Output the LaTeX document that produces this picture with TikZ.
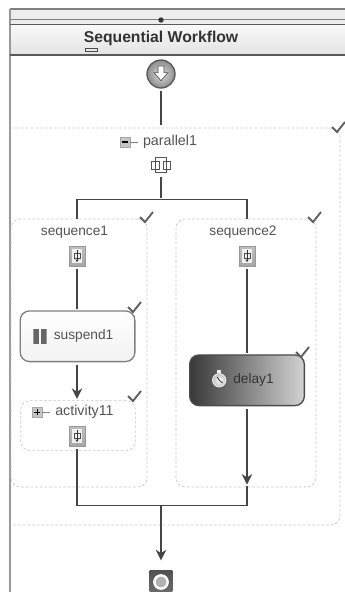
\documentclass[tikz,border=0pt]{standalone}
\usepackage{fontspec}
\setmainfont{Liberation Sans}
\usetikzlibrary{positioning,shapes,arrows.meta,calc}
\definecolor{wiregray}{rgb}{0.27,0.27,0.27}
\definecolor{textgray}{rgb}{0.33,0.33,0.33}
\definecolor{dashgray}{rgb}{0.78,0.78,0.78}
\definecolor{barlight}{rgb}{0.93,0.93,0.93}
\tikzstyle{wire}=[%
      draw=wiregray, line width=0.95pt, shorten <=2pt, shorten >=1pt
]
\tikzstyle{wirearrow}=[%
      wire, -{Stealth[length=8pt,width=8pt]}
]
\tikzstyle{dashbox}=[%
      rectangle, rounded corners=7pt, draw=dashgray, line width=0.5pt, dash pattern=on 2pt off 1.5pt,
      inner sep=0pt
]
\tikzstyle{lbl}=[%
      inner sep=0pt, text=textgray, font=\fontsize{10.3}{12}\selectfont
]
\tikzstyle{lblbig}=[%
      lbl, font=\fontsize{10.7}{12}\selectfont
]
\tikzstyle{actbox}=[%
      rectangle, rounded corners=7pt, draw=gray, line width=1pt, inner sep=0pt,
      minimum width=86pt, minimum height=38pt
]
\tikzstyle{seqicon}=[%
      rectangle, draw=gray!80, line width=0.4pt, inner sep=0pt, minimum width=12pt, minimum height=15pt,
      top color=gray!50, bottom color=gray!70,
      path picture={
        \fill[gray!12] ([shift={(-4pt,-5pt)}]path picture bounding box.center) rectangle ++(8pt,10pt);
        \draw[black!70, line width=0.4pt] ([shift={(-2.2pt,-1.8pt)}]path picture bounding box.center) rectangle ++(4.4pt,3.6pt);
        \draw[black!80, line width=0.6pt, -{Stealth[length=2pt,width=2.5pt]}] ([yshift=4.5pt]path picture bounding box.center) -- ++(0,-9pt);
      }
]
\tikzstyle{toggle}=[%
      rectangle, draw=gray!70, line width=0.3pt, fill=gray!45, inner sep=0pt, minimum size=7.5pt
]
\tikzset{
  check/.pic={
    \draw[draw=gray!75!black, line width=1.4pt] (-6,-1) -- (-1,4) -- (7,-6);
  }
}

\begin{document}
\begin{tikzpicture}[x=0.75pt,y=-0.75pt]
    \useasboundingbox (0,0) rectangle (345,592);
    \fill[white] (0,0) rectangle (345,592);

    % window frame
    \fill[barlight] (10,9) rectangle (345,24);
    \shade[top color=gray!5, bottom color=gray!22] (10,25) rectangle (345,55);
    \draw[gray, line width=0.8pt] (345,9) -- (10,9);
    \draw[gray!80, line width=1.5pt] (10,9) -- (10,592);
    \draw[gray, line width=0.6pt] (10,19) -- (345,19);
    \draw[gray!70!black, line width=1pt] (10,24.5) -- (345,24.5);
    \draw[gray!70!black, line width=1pt] (10,55) -- (345,55);
    \node[circle, fill=black!80, inner sep=0pt, minimum size=4pt] (grip) at (161,20) {};
    \node[inner sep=0pt, text=black!80, font=\fontsize{11.8}{14}\selectfont\bfseries] (title) at (161,38.5) {Sequential Workflow};
    \node[rectangle, draw=black!70, line width=0.4pt, inner sep=0pt, minimum width=9pt, minimum height=2.5pt] (titlemark) at (91,50) {};

    % start
    \node[circle, draw=gray!70!black, line width=1pt, inner color=gray!25, outer color=gray!90, inner sep=0pt, minimum size=21pt,
          path picture={
            \fill[white, draw=black!70, line width=0.5pt] ([shift={(-2.2pt,6pt)}]path picture bounding box.center) -- ++(4.4pt,0) -- ++(0,-5pt) -- ++(3pt,0)
              -- ++(-5.2pt,-6pt) -- ++(-5.2pt,6pt) -- ++(3pt,0) -- cycle;
          }] (start) at (161,74) {};
    \coordinate (partop) at (161,126);

    % parallel1
    \draw[dashgray, line width=0.5pt, dash pattern=on 2pt off 1.5pt, rounded corners=7pt] (12,128) -- (340,128) -- (340,525) -- (12,525);
    \pic at (338,128) {check};
    \node[lblbig] (parallel1) at (170,142) {parallel1};
    \node[toggle] (parmin) [left=9.5pt of parallel1] {};
    \draw[black, line width=0.8pt] ([xshift=-2pt]parmin.center) -- ([xshift=2pt]parmin.center);
    \draw[gray, line width=0.4pt, shorten >=3.5pt] (parmin) -- (parallel1.west);
    \node[rectangle, inner sep=0pt, minimum width=17pt, minimum height=14pt,
          path picture={
            \draw[textgray, line width=0.5pt] ([shift={(-4pt,-5.5pt)}]path picture bounding box.center) rectangle ++(8pt,11pt);
            \fill[white] ([shift={(-7pt,-3pt)}]path picture bounding box.center) rectangle ++(14pt,6pt);
            \draw[textgray, line width=0.5pt] ([shift={(-7pt,-3pt)}]path picture bounding box.center) rectangle ++(5.5pt,5.5pt);
            \draw[textgray, line width=0.5pt] ([shift={(1.5pt,-3pt)}]path picture bounding box.center) rectangle ++(5.5pt,5.5pt);
            \draw[textgray, line width=0.5pt] ([shift={(-4.2pt,-5pt)}]path picture bounding box.center) -- ++(0,10pt);
            \draw[textgray, line width=0.5pt] ([shift={(4.2pt,-5pt)}]path picture bounding box.center) -- ++(0,10pt);
          }] (paricon) at (161,165) {};
    \coordinate (fork) at (161,199.5);
    \coordinate (forkl) at (77,199.5);
    \coordinate (forkr) at (247,199.5);

    % sequence1
    \node[dashbox, minimum width=102pt, minimum height=201pt] (sequence1box) at (79,353) {};
    \pic at (146,218) {check};
    \node[lbl] (sequence1) at (74.5,232) {sequence1};
    \node[seqicon] (seqicon1) at (77,256) {};
    \node[actbox, top color=white, bottom color=gray!10, xshift=0.4pt] (suspend1) [below=33pt of seqicon1] {};
    \pic at (134,308) {check};
    \node[lbl] (suspendlbl) [right=25.5pt of suspend1.west] {suspend1};
    \node[rectangle, inner sep=0pt, minimum width=10pt, minimum height=11pt,
          path picture={
            \fill[gray!80!black] (path picture bounding box.south west) rectangle ++(4.2pt,11pt);
            \fill[gray!80!black] ([xshift=5.8pt]path picture bounding box.south west) rectangle ++(4.2pt,11pt);
          }] (pausebars) [left=5pt of suspendlbl] {};
    \node[dashbox, minimum width=86pt, minimum height=37.5pt, xshift=0.4pt] (activity11box) [below=28.5pt of suspend1] {};
    \pic at (134,397) {check};
    \node[lblbig, anchor=west] (activity11) at (55,412) {activity11};
    \node[toggle] (actplus) [left=9.5pt of activity11] {};
    \draw[black, line width=0.7pt] ([xshift=-2pt]actplus.center) -- ([xshift=2pt]actplus.center);
    \draw[black, line width=0.7pt] ([yshift=-2pt]actplus.center) -- ([yshift=2pt]actplus.center);
    \draw[gray, line width=0.4pt, shorten >=3.5pt] (actplus) -- (activity11.west);
    \node[seqicon] (seqicon11) at (77,436) {};

    % sequence2
    \node[dashbox, minimum width=105pt, minimum height=201pt] (sequence2box) at (246,353) {};
    \pic at (314,218) {check};
    \node[lbl] (sequence2) at (243,232) {sequence2};
    \node[seqicon] (seqicon2) at (247,256) {};
    \node[actbox, left color=black!78, right color=gray!35, draw=gray!60!black] (delay1) [below=66pt of seqicon2] {};
    \pic at (302,353) {check};
    \node[lbl, text=black!80] (delaylbl) [right=33pt of delay1.west] {delay1};
    \node[circle, draw=gray!15, line width=0.7pt, inner color=white, outer color=gray!50, inner sep=0pt, minimum size=10pt,
          path picture={
            \draw[black!80, line width=0.6pt] (path picture bounding box.center) -- ++(2.5pt,-2pt);
            \draw[black!80, line width=0.6pt] (path picture bounding box.center) -- ++(-1.5pt,2.5pt);
          }] (timer) [left=5pt of delaylbl] {};
    \node[rectangle, fill=gray!15, inner sep=0pt, minimum width=3pt, minimum height=2pt] (timertop) [above=0pt of timer] {};
    \coordinate (seq2in) at (247,486);

    % end
    \coordinate (joinl) at (77,505.5);
    \coordinate (joinm) at (161,505.5);
    \coordinate (joinr) at (247,505.5);
    \node[rectangle, inner sep=0pt, minimum width=17pt, minimum height=17pt, top color=gray!65!black, bottom color=gray!85!black,
          path picture={
            \fill[gray!60] (path picture bounding box.center) circle (4.6pt);
            \draw[white, line width=1.8pt] (path picture bounding box.center) circle (5pt);
          }] (finish) at (161,582) {};

    \draw[wire] (start) -- (partop);
    \draw[wire] (paricon) -- (fork);
    \draw[wire, shorten <=0pt, shorten >=0pt] (sequence1box.north -| forkl) -- (forkl) -- (forkr) -- (sequence2box.north -| forkr);
    \draw[wire] (seqicon1) -- (suspend1.north -| seqicon1);
    \draw[wirearrow] (suspend1.south -| seqicon1) -- (activity11box.north -| seqicon1);
    \draw[wire, shorten >=0pt] (seqicon11) -- (joinl) -- (joinr) -- (seq2in);
    \draw[wire] (seqicon2) -- (delay1.north -| seqicon2);
    \draw[wirearrow] (delay1.south -| seqicon2) -- (seq2in);
    \draw[wirearrow, shorten <=0pt, shorten >=7.5pt] (joinm) -- (finish);
\end{tikzpicture}
\end{document}
